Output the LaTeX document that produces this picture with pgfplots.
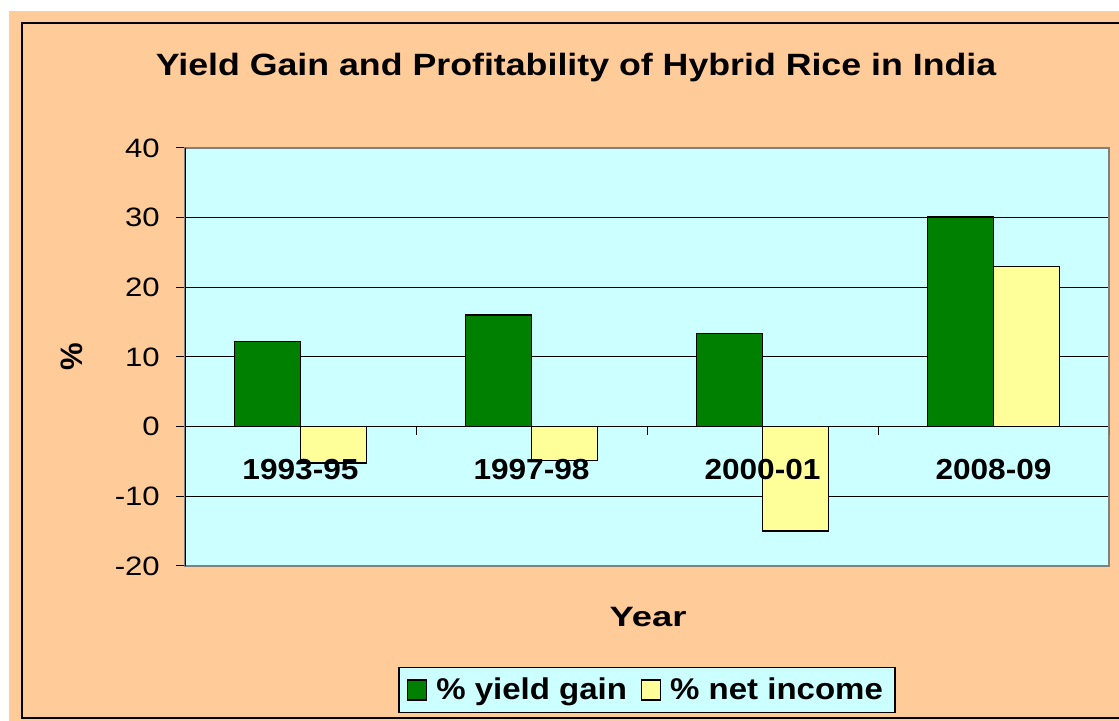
\documentclass[border=0pt]{standalone}
\usepackage{graphicx}
\usepackage{fontspec}
\setmainfont{Liberation Sans}
\usepackage{pgfplots}
\pgfplotsset{compat=1.18}
\definecolor{peach}{HTML}{FFCC99}
\definecolor{cyanbg}{HTML}{CCFFFF}
\definecolor{dgreen}{HTML}{008000}
\definecolor{lyellow}{HTML}{FFFF99}
\begin{document}
\begin{tikzpicture}
\useasboundingbox (0,0) rectangle (559.5pt,360.5pt);
\fill[white] (0,0) rectangle (559.5pt,360.5pt);
\fill[peach] (4.5pt,0) rectangle (559.5pt,355pt);
\draw[line width=0.75pt,black] (565pt,349pt) -- (11pt,349pt) -- (11pt,1.5pt) -- (565pt,1.5pt);
\begin{axis}[
  at={(92.5pt,77.5pt)}, anchor=south west,
  width=462pt, height=209pt, scale only axis,
  ybar=0pt, bar width=0.286,
  xmin=-0.5, xmax=3.5, ymin=-20, ymax=40,
  ytick={-20,-10,0,10,20,30,40},
  xtick=\empty,
  ytick pos=left, tick align=outside,
  major tick length=4.5pt,
  tick style={black, line width=0.5pt},
  axis background/.style={fill=cyanbg},
  axis line style={draw=gray, line width=1pt},
  ymajorgrids, grid style={black, line width=0.5pt},
  yticklabel={\scalebox{1.17}[1]{\fontsize{13.3pt}{16pt}\selectfont\pgfmathprintnumber[assume math mode=true]{\tick}}},
  yticklabel style={xshift=-4.6pt},
  legend style={at={(0.5,-0.2967)}, anchor=center, draw=black, fill=cyanbg,
    line width=0.6pt, legend columns=2, inner xsep=4pt, inner ysep=3pt,
    /tikz/every even column/.append style={column sep=5pt}},
  legend image code/.code={\draw[#1,draw=black,line width=0.6pt] (0pt,-5pt) rectangle (9.5pt,5pt);},
]
\addplot[fill=dgreen, draw=black, line width=0.7pt] coordinates {(0,12.2) (1,16.0) (2,13.4) (3,30.1)};
\addplot[fill=lyellow, draw=black, line width=0.7pt] coordinates {(0,-5.2) (1,-4.9) (2,-15.0) (3,23.0)};
\legend{\hspace{2.5pt}\scalebox{1.1}[1]{\fontsize{15pt}{18pt}\selectfont\bfseries \% yield gain},
        \hspace{2.5pt}\scalebox{1.1}[1]{\fontsize{15pt}{18pt}\selectfont\bfseries \% net income}}
\draw[black, line width=0.6pt] (axis cs:-0.5,40) -- (axis cs:-0.5,-20);
\draw[black, line width=0.5pt] (axis cs:0.5,0) -- (axis cs:0.5,-1.15);
\draw[black, line width=0.5pt] (axis cs:1.5,0) -- (axis cs:1.5,-1.15);
\draw[black, line width=0.5pt] (axis cs:2.5,0) -- (axis cs:2.5,-1.15);
\draw[black, line width=0.5pt] (axis cs:3.5,0) -- (axis cs:3.5,-1.15);
\node[font=\fontsize{14.5pt}{17pt}\selectfont\bfseries] at (axis cs:0,-6.2) {\scalebox{1.09}[1]{1993-95}};
\node[font=\fontsize{14.5pt}{17pt}\selectfont\bfseries] at (axis cs:1,-6.2) {\scalebox{1.09}[1]{1997-98}};
\node[font=\fontsize{14.5pt}{17pt}\selectfont\bfseries] at (axis cs:2,-6.2) {\scalebox{1.09}[1]{2000-01}};
\node[font=\fontsize{14.5pt}{17pt}\selectfont\bfseries] at (axis cs:3,-6.2) {\scalebox{1.09}[1]{2008-09}};
\end{axis}
\node[font=\fontsize{15.4pt}{18pt}\selectfont\bfseries] at (288pt,326.5pt) {\scalebox{1.16}[1]{Yield Gain and Profitability of Hybrid Rice in India}};
\node[font=\fontsize{15.5pt}{18pt}\selectfont\bfseries, rotate=90] at (36pt,182pt) {\%};
\node[font=\fontsize{14pt}{17pt}\selectfont\bfseries] at (324pt,52pt) {\scalebox{1.3}[1]{Year}};
\end{tikzpicture}
\end{document}
